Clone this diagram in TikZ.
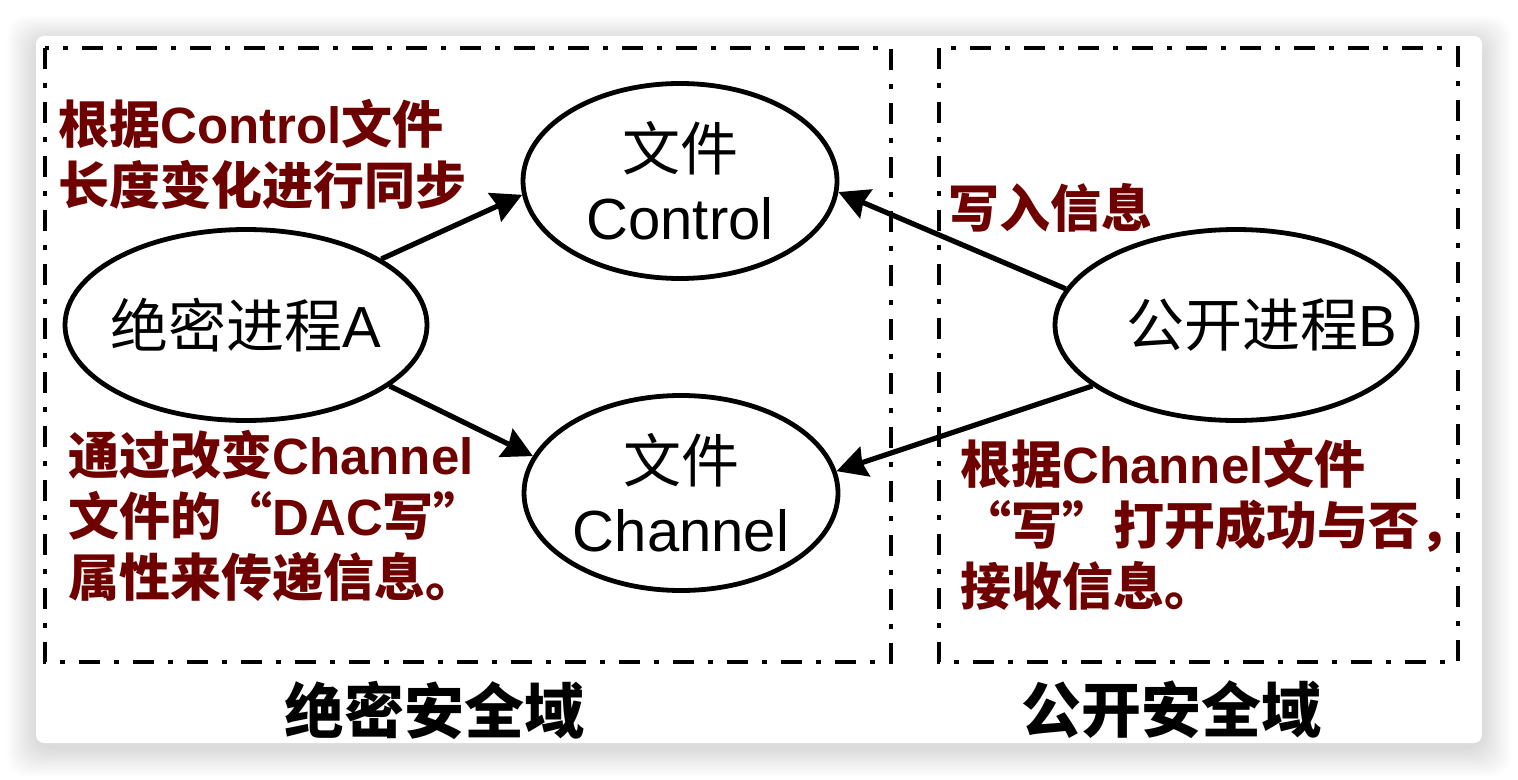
\documentclass[tikz,border=0pt]{standalone}
\usepackage{fontspec}
\setmainfont{Noto Sans CJK SC}
\newfontfamily\lat{Liberation Sans}
\newfontfamily\fwq{Noto Sans CJK SC}[RawFeature=+fwid]
\usetikzlibrary{arrows.meta,shapes.geometric}
\definecolor{dred}{RGB}{110,0,0}
\newcommand\stk[1]{\vtop{\baselineskip=30.5pt\lineskiplimit=-100pt\lineskip=0pt\halign{##\hfil\cr#1\crcr}}}
\newcommand\qo{{\fwq “}}
\newcommand\qc{{\fwq ”}}
\begin{document}
\begin{tikzpicture}[x=0.5pt,y=-0.5pt,
  box/.style={draw, line width=2.1pt, dash pattern=on 10.5pt off 7pt on 2.5pt off 7pt},
  proc/.style={ellipse, draw, line width=2.4pt, fill=white, inner sep=0pt,
    minimum width=181pt, minimum height=95.5pt, font=\fontsize{29}{34.5}\selectfont},
  file/.style={ellipse, draw, line width=2.4pt, fill=white, inner sep=0pt,
    minimum width=157pt, minimum height=97.5pt, align=center, font=\fontsize{29}{34.5}\selectfont},
  lbl/.style={anchor=base west, inner sep=0pt, text=dred, font=\bfseries\fontsize{25.5}{30.5}\selectfont},
  dom/.style={inner sep=0pt, font=\bfseries\fontsize{30}{36}\selectfont},
  arr/.style={line width=2.6pt, -{Stealth[length=15pt,width=15.5pt,inset=1.5pt]}}]
\useasboundingbox (0,0) rectangle (1518,780);
\fill[white] (0,0) rectangle (1518,780);
% card shadow
\foreach \i in {1,...,18}{
  \fill[black, opacity=0.009, rounded corners=10pt]
    ({36-1.6*\i},{36-1.4*\i+5}) rectangle ({1482+1.6*\i},{743+1.6*\i+5});
}
% card
\fill[white, rounded corners=4pt] (36,36) rectangle (1482,743);
% domains
\draw[box] (45,48) rectangle (891,662);
\draw[box] (939,48) rectangle (1458,662);
% processes and files
\node[proc] (A) at (246,325) {\makebox[0pt]{绝密进程{\lat A}}};
\node[proc] (B) at (1236,325) {\makebox[0pt]{\hspace*{26pt}公开进程{\lat B}}};
\node[file] (ctrl) at (680,181) {文件\\{\lat Control}};
\node[file] (chan) at (681,493) {文件\\{\lat Channel}};
% connectors
\draw[arr] (A.26) -- (ctrl.185);
\draw[arr] (A.-23) -- (chan.166);
\draw[arr] (B.168) -- (ctrl.-4);
\draw[arr] (B.203) -- (chan.8.5);
% labels
\node[lbl] (t1) at (58,143.5) {\stk{根据{\lat Control}文件\cr 长度变化进行同步}};
\node[lbl] (t2) at (68,474.5) {\stk{通过改变{\lat Channel}\cr 文件的\qo{\lat DAC}写\qc\cr 属性来传递信息。}};
\node[lbl] (t3) at (948,227.5) {写入信息};
\node[lbl] (t4) at (960,483.5) {\stk{根据{\lat Channel}文件\cr \qo 写\qc 打开成功与否，\cr 接收信息。}};
\node[dom] (d1) at (434.5,710) {绝密安全域};
\node[dom] (d2) at (1171,710) {公开安全域};
\end{tikzpicture}
\end{document}
